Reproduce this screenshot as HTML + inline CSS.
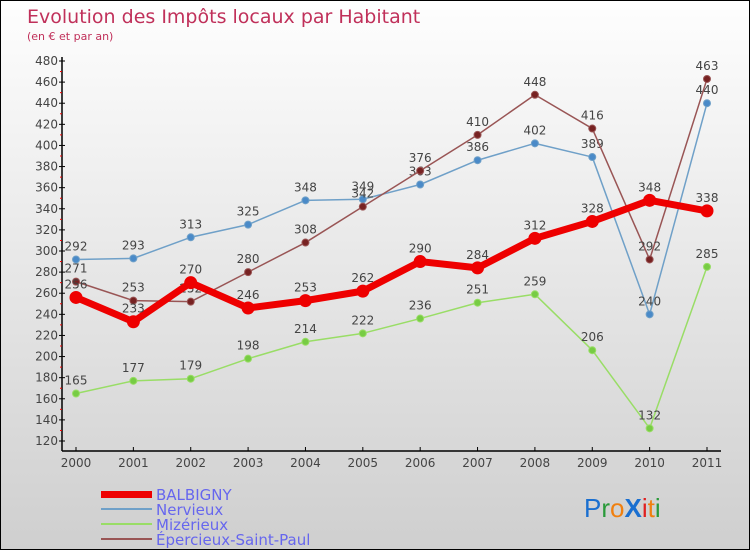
<!DOCTYPE html>
<html><head><meta charset="utf-8"><style>
html,body{margin:0;padding:0}
body{width:750px;height:550px;overflow:hidden;font-family:"DejaVu Sans","Liberation Sans",sans-serif}
#wrap{position:relative;width:748px;height:548px;border:1px solid #000;background:linear-gradient(#fefefe,#cfcfcf)}
svg{position:absolute;left:0;top:0}
</style></head><body>
<div id="wrap">
<svg id="chart" width="750" height="550">
<text x="26" y="22" font-size="19" fill="#c0305a">Evolution des Impôts locaux par Habitant</text>
<text x="26" y="39" font-size="11" fill="#c0305a">(en € et par an)</text>
<g id="axes"></g><g id="series"></g>
<g>
<rect x="100" y="490" width="51" height="7" fill="#e00"/>
<text x="155" y="499" font-size="15" fill="#6666ee">BALBIGNY</text>
<rect x="100" y="507" width="51" height="2" fill="#6fa0c8"/>
<text x="155" y="514" font-size="15" fill="#6666ee">Nervieux</text>
<rect x="100" y="522" width="51" height="2" fill="#99dd66"/>
<text x="155" y="529" font-size="15" fill="#6666ee">Mizérieux</text>
<rect x="100" y="537" width="51" height="2" fill="#995555"/>
<text x="155" y="544" font-size="15" fill="#6666ee">Épercieux-Saint-Paul</text>
</g>
<g font-size="26" font-family="'Liberation Sans',sans-serif">
<text x="583" y="516"><tspan fill="#1a6fd0">P</tspan><tspan fill="#2a9a3a">r</tspan><tspan fill="#f08010">o</tspan><tspan fill="#1a6fd0" font-weight="bold">X</tspan><tspan fill="#e02020">i</tspan><tspan fill="#f08010">t</tspan><tspan fill="#2a9a3a">i</tspan></text>
</g>
</svg></div>
<script>
const years=["2000","2001","2002","2003","2004","2005","2006","2007","2008","2009","2010","2011"];
const balbigny=[256,233,270,246,253,262,290,284,312,328,348,338];
const nervieux=[292,293,313,325,348,349,363,386,402,389,240,440];
const mizerieux=[165,177,179,198,214,222,236,251,259,206,132,285];
const epercieux=[271,253,252,280,308,342,376,410,448,416,292,463];
const yTicks=[120,140,160,180,200,220,240,260,280,300,320,340,360,380,400,420,440,460,480];
const NS="http://www.w3.org/2000/svg";
const x=i=>75+i*(706-75)/11;
const y=v=>440-(v-120)*(380/360);
function mk(tag,attrs,parent){const e=document.createElementNS(NS,tag);for(const k in attrs)e.setAttribute(k,attrs[k]);parent.appendChild(e);return e;}
const ax=document.getElementById('axes');
let l=mk('line',{x1:61,y1:56,x2:61,y2:450,stroke:'#000','stroke-width':1.5},ax);


l=mk('line',{x1:61,y1:450,x2:720,y2:450,stroke:'#000','stroke-width':1.5},ax);


yTicks.forEach((v,i)=>{
  mk('line',{x1:58,y1:y(v),x2:64,y2:y(v),stroke:'#000'},ax);
  if(i<yTicks.length-1) mk('line',{x1:59,y1:y(v+10),x2:61,y2:y(v+10),stroke:'#e00'},ax);
  const t=mk('text',{x:57,y:y(v)+4,'font-size':12,fill:'#444','text-anchor':'end'},ax);
  t.textContent=v;
  
  
});
years.forEach((yr,i)=>{
  mk('line',{x1:x(i),y1:446,x2:x(i),y2:450,stroke:'#000'},ax);
  const t=mk('text',{x:x(i),y:466,'font-size':12,fill:'#444','text-anchor':'middle'},ax);
  t.textContent=yr;
  
  
});
const sg=document.getElementById('series');
function draw(data,name,color,dot,w,r){
  const g=mk('g',{},sg);
  
  
  const p=mk('polyline',{points:data.map((v,i)=>x(i)+','+y(v)).join(' '),fill:'none',stroke:color,'stroke-width':w,'stroke-linejoin':'round'},g);
  
  
  data.forEach((v,i)=>{
    const c=mk('circle',{cx:x(i),cy:y(v),r:r,fill:dot,stroke:color,'stroke-width':1},g);
    
    
    const t=mk('text',{x:x(i),y:y(v)-9,'font-size':12,fill:'#444','text-anchor':'middle'},g);
    t.textContent=v;
    
    
  });
}
draw(mizerieux,'mizerieux','#99dd66','#77cc44',1.5,3.5);
draw(nervieux,'nervieux','#6fa0c8','#4a8ac8',1.5,3.5);
draw(epercieux,'epercieux','#995555','#772222',1.5,3.5);
draw(balbigny,'balbigny','#ee0000','#ee0000',7,6);
</script>
</body></html>
